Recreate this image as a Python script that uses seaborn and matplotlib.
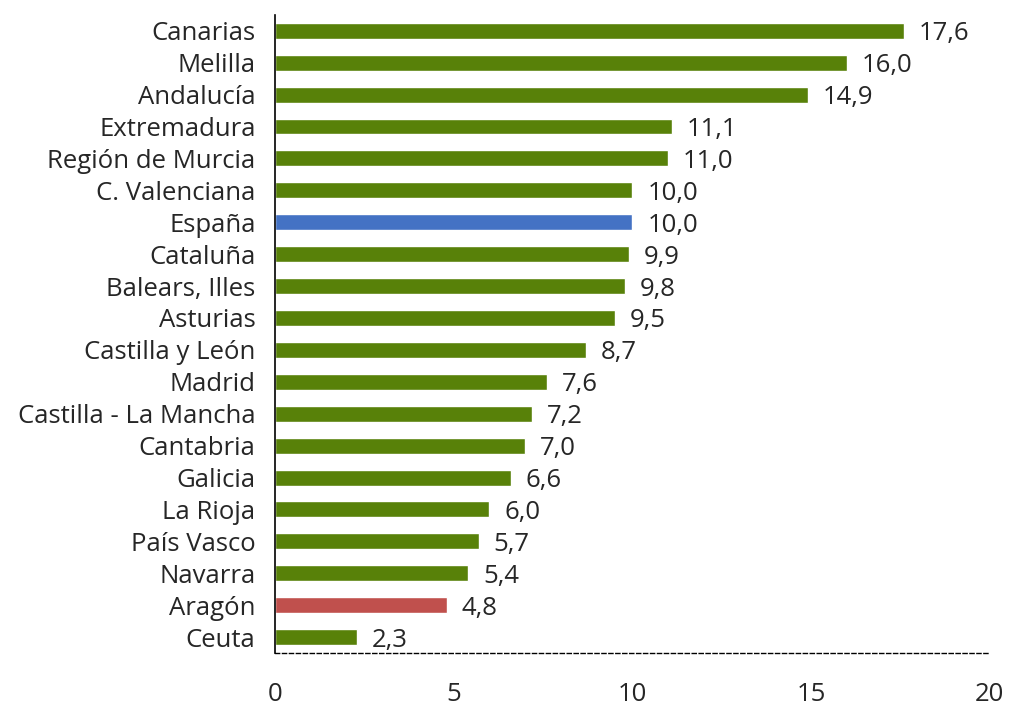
import matplotlib
matplotlib.use("Agg")
import matplotlib.pyplot as plt
import seaborn as sns
import pandas as pd
from matplotlib.ticker import FixedLocator

# datos
regiones = ["Canarias", "Melilla", "Andalucía", "Extremadura", "Región de Murcia",
            "C. Valenciana", "España", "Cataluña", "Balears, Illes", "Asturias",
            "Castilla y León", "Madrid", "Castilla - La Mancha", "Cantabria", "Galicia",
            "La Rioja", "País Vasco", "Navarra", "Aragón", "Ceuta"]
valores = [17.6, 16.0, 14.9, 11.1, 11.0, 10.0, 10.0, 9.9, 9.8, 9.5,
           8.7, 7.6, 7.2, 7.0, 6.6, 6.0, 5.7, 5.4, 4.8, 2.3]
x_ticks = [0, 5, 10, 15, 20]

verde = "#588109"
colores = {r: verde for r in regiones}
colores["España"] = "#4472C4"
colores["Aragón"] = "#C0504D"

df = pd.DataFrame({"region": regiones, "valor": valores})

sns.set_style("white")
plt.rcParams["font.family"] = ["Open Sans", "DejaVu Sans"]
fs = 18.5

fig = plt.figure(figsize=(10.09, 7.06), dpi=100)
ax = fig.add_axes([0.2725, 0.075, 0.7085, 0.904])

sns.barplot(data=df, x="valor", y="region", hue="region", palette=colores,
            order=regiones, width=0.5, saturation=1, legend=False, ax=ax)

# etiquetas de valor (coma decimal), un poco por debajo del centro de la barra
for i, v in enumerate(valores):
    ax.annotate(f"{v:.1f}".replace(".", ","), (v, i), xytext=(15, -3),
                textcoords="offset pixels", va="center", ha="left", fontsize=fs)

ax.set_xlim(0, 20)
ax.set_ylim(len(regiones) - 0.5, -0.5)
ax.set_xticks(x_ticks)
ax.set_xticklabels([str(t) for t in x_ticks], fontsize=fs)
ax.set_xlabel("")
ax.set_ylabel("")
ax.tick_params(axis="y", which="major", length=0, labelsize=fs, pad=14)
ax.yaxis.set_minor_locator(FixedLocator([i - 0.5 for i in range(len(regiones) + 1)]))
ax.tick_params(axis="y", which="minor", length=6, width=1.2, color="black", direction="out")
ax.tick_params(axis="x", length=5, width=1, color="black", direction="out", pad=16)

for s in ["top", "right"]:
    ax.spines[s].set_visible(False)
ax.spines["left"].set_color("black")
ax.spines["left"].set_linewidth(1.2)
ax.spines["bottom"].set_color("black")
ax.spines["bottom"].set_linewidth(1)
ax.spines["bottom"].set_linestyle((0, (3, 2)))

fig.savefig("out.png", dpi=100)
